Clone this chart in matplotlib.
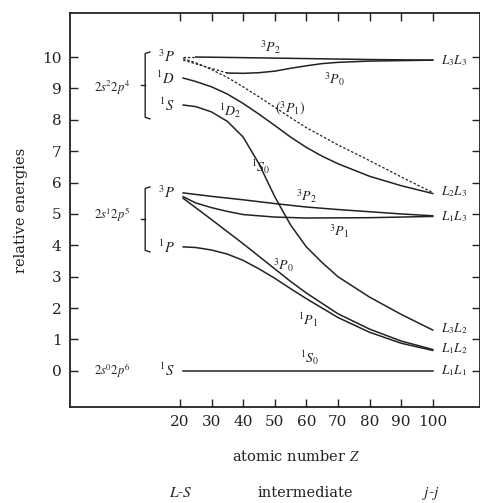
import matplotlib
matplotlib.use("Agg")
import matplotlib.pyplot as plt

plt.rcParams['font.family'] = ['DejaVu Serif']
plt.rcParams['mathtext.fontset'] = 'stix'

# atomic number Z and relative energies
# 2s2 2p4 group
z_3p2_top = [25, 40, 60, 80, 100]
e_3p2_top = [10.0, 9.98, 9.95, 9.92, 9.9]
z_3p0_top = [35, 40, 45, 50, 55, 60, 65, 70, 80, 100]
e_3p0_top = [9.49, 9.48, 9.5, 9.55, 9.64, 9.72, 9.79, 9.83, 9.87, 9.9]
z_3p1_dash = [21, 25, 30, 35, 40, 45, 50, 55, 60, 70, 80, 90, 100]
e_3p1_dash = [9.95, 9.82, 9.6, 9.35, 9.05, 8.73, 8.4, 8.07, 7.75, 7.2, 6.7, 6.18, 5.68]
z_1d2 = [21, 25, 30, 35, 40, 45, 50, 55, 60, 65, 70, 80, 90, 100]
e_1d2 = [9.33, 9.22, 9.05, 8.82, 8.52, 8.18, 7.82, 7.45, 7.12, 6.84, 6.6, 6.2, 5.9, 5.65]
z_1s0_top = [21, 25, 30, 35, 40, 45, 50, 55, 60, 65, 70, 80, 90, 100]
e_1s0_top = [8.47, 8.42, 8.25, 7.95, 7.45, 6.6, 5.55, 4.65, 3.95, 3.45, 3.0, 2.35, 1.8, 1.3]

# 2s1 2p5 group
z_3p2_mid = [21, 30, 40, 50, 60, 70, 80, 90, 100]
e_3p2_mid = [5.67, 5.56, 5.45, 5.33, 5.22, 5.14, 5.07, 5.0, 4.94]
z_3p1_mid = [21, 25, 30, 35, 40, 50, 60, 80, 100]
e_3p1_mid = [5.55, 5.35, 5.2, 5.08, 4.98, 4.9, 4.87, 4.88, 4.92]
z_3p0_mid = [21, 30, 40, 50, 55, 60, 70, 80, 90, 100]
e_3p0_mid = [5.5, 4.82, 4.05, 3.25, 2.85, 2.48, 1.82, 1.33, 0.95, 0.68]
z_1p1 = [21, 25, 30, 35, 40, 45, 50, 55, 60, 70, 80, 90, 100]
e_1p1 = [3.95, 3.93, 3.85, 3.72, 3.52, 3.25, 2.95, 2.62, 2.3, 1.7, 1.23, 0.88, 0.65]

# 2s0 2p6
z_1s0_bot = [21, 100]
e_1s0_bot = [0, 0]

x_ticks = [20, 30, 40, 50, 60, 70, 80, 90, 100]
y_ticks = list(range(0, 11))

col = '#222222'
dash = (0, (2, 1.5))
fig = plt.figure(figsize=(4.81, 5.03), dpi=100)
ax = fig.add_axes([0.1455, 0.191, 0.852, 0.783])

ax.plot(z_3p2_top, e_3p2_top, color=col, lw=1.1)
ax.plot([21, 25], [10.0, 10.0], color=col, lw=0.9, ls=dash)
ax.plot(z_3p0_top, e_3p0_top, color=col, lw=1.1)
ax.plot([21, 35], [9.9, 9.49], color=col, lw=0.9, ls=dash)
ax.plot(z_3p1_dash, e_3p1_dash, color=col, lw=0.9, ls=dash)
ax.plot(z_1d2, e_1d2, color=col, lw=1.1)
ax.plot(z_1s0_top, e_1s0_top, color=col, lw=1.1)

ax.plot(z_3p2_mid, e_3p2_mid, color=col, lw=1.1)
ax.plot(z_3p1_mid, e_3p1_mid, color=col, lw=1.1)
ax.plot(z_3p0_mid, e_3p0_mid, color=col, lw=1.1)
ax.plot(z_1p1, e_1p1, color=col, lw=1.1)
ax.plot(z_1s0_bot, e_1s0_bot, color=col, lw=1.1)

ax.set_xlim(-14.8, 114.9)
ax.set_ylim(-1.15, 11.4)
ax.set_xticks(x_ticks)
ax.set_yticks(y_ticks)
ax.tick_params(direction='in', length=6, width=1.0, labelsize=11, colors=col,
               top=True, right=True, pad=6)
for s in ax.spines.values():
    s.set_linewidth(1.3)
    s.set_color(col)

ax.set_ylabel('relative energies', fontsize=10.5, color=col, labelpad=10)
fig.text(0.615, 0.083, 'atomic number $Z$', fontsize=10.5, ha='center', color=col)
fig.text(0.375, 0.012, '$L$-$S$', fontsize=11, ha='center', color=col)
fig.text(0.635, 0.012, 'intermediate', fontsize=10.5, ha='center', color=col)
fig.text(0.895, 0.012, '$j$-$j$', fontsize=11, ha='center', color=col)

# configuration labels
fs = 9
ax.text(-1.5, 9.0, '$2s^22p^4$', fontsize=fs, ha='center', va='center', color=col)
ax.text(-1.5, 4.97, '$2s^12p^5$', fontsize=fs, ha='center', va='center', color=col)
ax.text(-1.5, 0.0, '$2s^02p^6$', fontsize=fs, ha='center', va='center', color=col)

# brackets
for y0, y1 in [(8.03, 10.16), (3.79, 5.86)]:
    ym = (y0 + y1) / 2
    ax.plot([10.5, 9.0, 9.0, 10.5], [y1, y1 - 0.05, y0 + 0.05, y0], color=col, lw=1.0)
    ax.plot([9.0, 7.8], [ym, ym], color=col, lw=1.0)

# term labels on the left
for yv, t in [(10.0, '$^3P$'), (9.33, '$^1D$'), (8.47, '$^1S$'),
              (5.67, '$^3P$'), (3.92, '$^1P$'), (0.0, '$^1S$')]:
    ax.text(18.3, yv, t, fontsize=10.5, ha='right', va='center', color=col)

# level labels on the curves
for xv, yv, t in [(48.5, 10.32, '$^3P_2$'), (69, 9.28, '$^3P_0$'),
                  (55, 8.35, '$(^3P_1)$'), (36, 8.3, '$^1D_2$'),
                  (45.5, 6.5, '$^1S_0$'), (60, 5.55, '$^3P_2$'),
                  (70.5, 4.45, '$^3P_1$'), (52.8, 3.38, '$^3P_0$'),
                  (60.5, 1.62, '$^1P_1$'), (61, 0.4, '$^1S_0$')]:
    ax.text(xv, yv, t, fontsize=10, ha='center', va='center', color=col)

# j-j labels on the right
for yv, t in [(9.9, '$L_3L_3$'), (5.72, '$L_2L_3$'), (4.92, '$L_1L_3$'),
              (1.35, '$L_3L_2$'), (0.7, '$L_1L_2$'), (0.0, '$L_1L_1$')]:
    ax.text(102.5, yv, t, fontsize=9.5, ha='left', va='center', color=col)

fig.savefig('out.png', dpi=100)
